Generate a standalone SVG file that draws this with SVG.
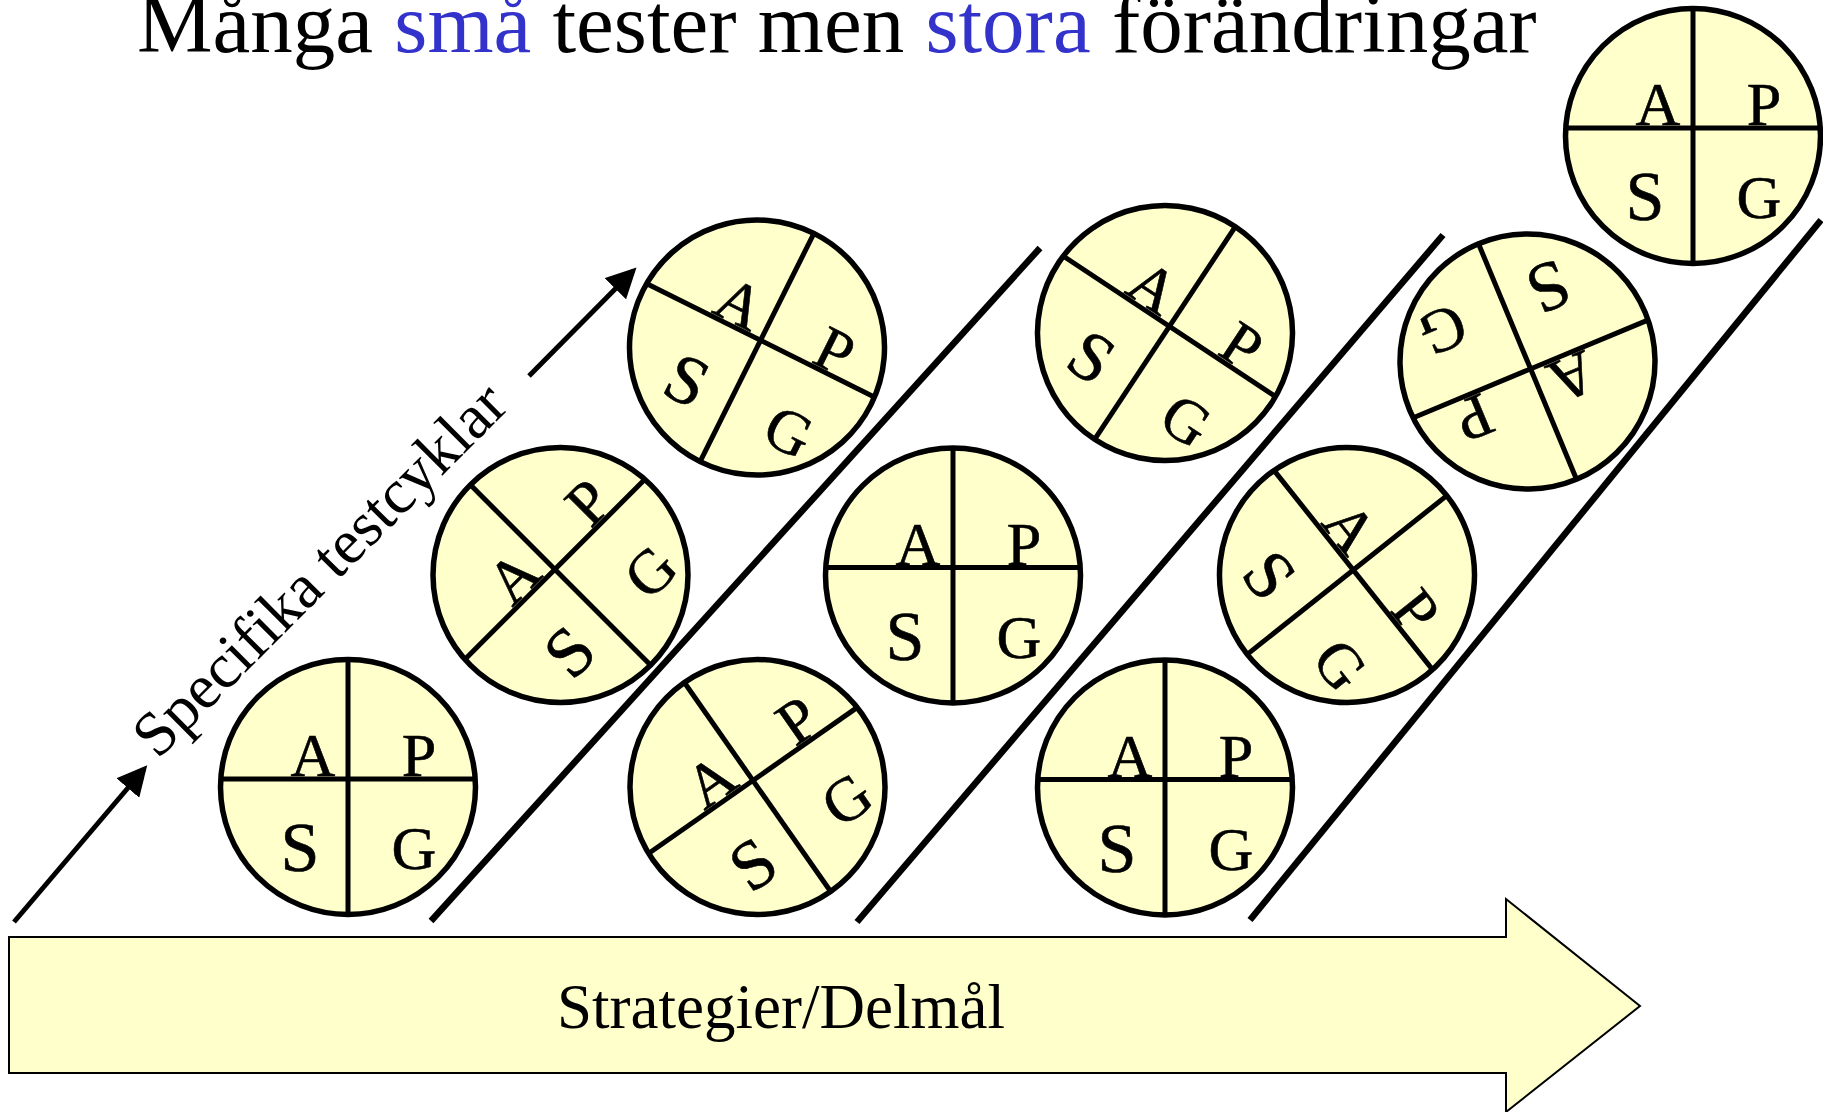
<svg xmlns="http://www.w3.org/2000/svg" width="1823" height="1112" viewBox="0 0 1823 1112">
<defs>
<style>
.disc{fill:#FFFFCC;stroke:#000;stroke-width:5.5}
.ax{stroke:#000;stroke-width:5;fill:none}
.l{font-family:"Liberation Serif","Times New Roman",serif;font-size:62px;fill:#000;stroke:#000;stroke-width:0.6;text-anchor:middle}
.s{font-size:70px}
.sep{stroke:#000;stroke-width:6.5;fill:none}
.arr{stroke:#000;stroke-width:5;fill:none}
.title{font-family:"Liberation Serif","Times New Roman",serif;font-size:85px;fill:#000}
.blue{fill:#3333CC}
.lab{font-family:"Liberation Serif","Times New Roman",serif;font-size:63px;fill:#000}
</style>
<marker id="ah" markerWidth="6" markerHeight="6" refX="5" refY="3" orient="auto" markerUnits="strokeWidth">
<path d="M0,0 L6,3 L0,6 z" fill="#000"/>
</marker>
</defs>
<rect width="1823" height="1112" fill="#fff"/>

<g id="title">
<text class="title" x="137" y="52">Många <tspan class="blue">små</tspan> tester men <tspan class="blue">stora</tspan> förändringar</text>
</g>

<g id="strategy">
<polygon points="9,937 1506,937 1506,899 1640,1006 1506,1112 1506,1073 9,1073" fill="#FFFFCC" stroke="#000" stroke-width="2"/>
<text class="lab" x="781" y="1028" text-anchor="middle">Strategier/Delmål</text>
</g>

<g id="connectors">
<line class="arr" x1="14" y1="922" x2="144" y2="769" marker-end="url(#ah)"/>
<line class="arr" x1="529" y1="376" x2="633" y2="271" marker-end="url(#ah)"/>
<line class="sep" x1="431" y1="921" x2="1040" y2="248"/>
<line class="sep" x1="857" y1="922" x2="1443" y2="235"/>
<line class="sep" x1="1250" y1="920" x2="1821" y2="220"/>
</g>

<g id="cycles-label">
<text class="lab" x="0" y="0" text-anchor="middle" transform="translate(334,584) rotate(-45)">Specifika testcyklar</text>
</g>

<g id="c1" transform="translate(348,787) rotate(0)">
<circle class="disc" r="127.5"/><line class="ax" x1="-127" y1="-8" x2="127" y2="-8"/><line class="ax" x1="0" y1="-127.5" x2="0" y2="127.5"/>
<text class="l" x="-35" y="-11">A</text><text class="l" x="71" y="-11">P</text><text class="l s" x="-48" y="84">S</text><text class="l" x="66" y="82">G</text>
</g>
<g id="c2" transform="translate(560.5,575) rotate(-45)">
<circle class="disc" r="127.5"/><line class="ax" x1="-127" y1="-8" x2="127" y2="-8"/><line class="ax" x1="0" y1="-127.5" x2="0" y2="127.5"/>
<text class="l" x="-35" y="-11">A</text><text class="l" x="71" y="-11">P</text><text class="l s" x="-48" y="84">S</text><text class="l" x="66" y="82">G</text>
</g>
<g id="c3" transform="translate(757,347.5) rotate(26.5)">
<circle class="disc" r="127.5"/><line class="ax" x1="-127" y1="-8" x2="127" y2="-8"/><line class="ax" x1="0" y1="-127.5" x2="0" y2="127.5"/>
<text class="l" x="-35" y="-11">A</text><text class="l" x="71" y="-11">P</text><text class="l s" x="-48" y="84">S</text><text class="l" x="66" y="82">G</text>
</g>
<g id="c4" transform="translate(757.5,787) rotate(-35)">
<circle class="disc" r="127.5"/><line class="ax" x1="-127" y1="-8" x2="127" y2="-8"/><line class="ax" x1="0" y1="-127.5" x2="0" y2="127.5"/>
<text class="l" x="-35" y="-11">A</text><text class="l" x="71" y="-11">P</text><text class="l s" x="-48" y="84">S</text><text class="l" x="66" y="82">G</text>
</g>
<g id="c5" transform="translate(953,575.5) rotate(0)">
<circle class="disc" r="127.5"/><line class="ax" x1="-127" y1="-8" x2="127" y2="-8"/><line class="ax" x1="0" y1="-127.5" x2="0" y2="127.5"/>
<text class="l" x="-35" y="-11">A</text><text class="l" x="71" y="-11">P</text><text class="l s" x="-48" y="84">S</text><text class="l" x="66" y="82">G</text>
</g>
<g id="c6" transform="translate(1165,333) rotate(33.5)">
<circle class="disc" r="127.5"/><line class="ax" x1="-127" y1="-8" x2="127" y2="-8"/><line class="ax" x1="0" y1="-127.5" x2="0" y2="127.5"/>
<text class="l" x="-35" y="-11">A</text><text class="l" x="71" y="-11">P</text><text class="l s" x="-48" y="84">S</text><text class="l" x="66" y="82">G</text>
</g>
<g id="c7" transform="translate(1165,787.5) rotate(0)">
<circle class="disc" r="127.5"/><line class="ax" x1="-127" y1="-8" x2="127" y2="-8"/><line class="ax" x1="0" y1="-127.5" x2="0" y2="127.5"/>
<text class="l" x="-35" y="-11">A</text><text class="l" x="71" y="-11">P</text><text class="l s" x="-48" y="84">S</text><text class="l" x="66" y="82">G</text>
</g>
<g id="c8" transform="translate(1347,575) rotate(51.5)">
<circle class="disc" r="127.5"/><line class="ax" x1="-127" y1="-8" x2="127" y2="-8"/><line class="ax" x1="0" y1="-127.5" x2="0" y2="127.5"/>
<text class="l" x="-35" y="-11">A</text><text class="l" x="71" y="-11">P</text><text class="l s" x="-48" y="84">S</text><text class="l" x="66" y="82">G</text>
</g>
<g id="c9" transform="translate(1527.5,361.5) rotate(157.4)">
<circle class="disc" r="127.5"/><line class="ax" x1="-127" y1="-8" x2="127" y2="-8"/><line class="ax" x1="0" y1="-127.5" x2="0" y2="127.5"/>
<text class="l" x="-35" y="-11">A</text><text class="l" x="71" y="-11">P</text><text class="l s" x="-48" y="84">S</text><text class="l" x="66" y="82">G</text>
</g>
<g id="c10" transform="translate(1693,136) rotate(0)">
<circle class="disc" r="127.5"/><line class="ax" x1="-127" y1="-8" x2="127" y2="-8"/><line class="ax" x1="0" y1="-127.5" x2="0" y2="127.5"/>
<text class="l" x="-35" y="-11">A</text><text class="l" x="71" y="-11">P</text><text class="l s" x="-48" y="84">S</text><text class="l" x="66" y="82">G</text>
</g>
</svg>
